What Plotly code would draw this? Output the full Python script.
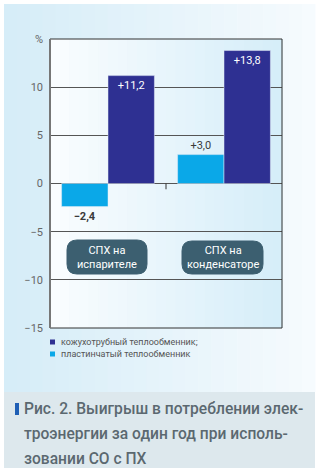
import plotly.graph_objects as go

# ---- data ----
groups = ["СПХ на<br>испарителе", "СПХ на<br>конденсаторе"]
series_names = ["кожухотрубный теплообменник;", "пластинчатый теплообменник"]
shell_tube = [11.2, 13.8]
plate = [-2.4, 3.0]
shell_labels = ["+11,2", "+13,8"]
plate_labels = ["<b>−2,4</b>", "+3,0"]
tick_vals = [15, 10, 5, 0, -5, -10, -15]
tick_text = ["%", "10", "5", "0", "−5", "−10", "−15"]
caption_lines = ["Рис. 2. Выигрыш в потреблении элек-",
                 "троэнергии за один год при исполь-",
                 "зовании СО с ПХ"]

DARK = "#2e3092"
LIGHT = "#0aa8e8"

# plot-area geometry in pixels (for decoration placement)
W, H = 319, 473
L, R, T, B = 50, 282, 39, 328
PW, PH = R - L, B - T


def xp(px):
    return (px - L) / PW


def yp(py):
    return (B - py) / PH


xs = list(range(len(groups)))

fig = go.Figure()
fig.add_trace(go.Bar(
    x=xs, y=plate, name=series_names[1], marker_color=LIGHT,
    text=plate_labels, textposition="outside",
    textfont=dict(color="#3a3a3a", size=11, family="Roboto"),
    cliponaxis=False, showlegend=False,
))
fig.add_trace(go.Bar(
    x=xs, y=shell_tube, name=series_names[0], marker_color=DARK,
    text=shell_labels, textposition="inside", insidetextanchor="end",
    textfont=dict(color="white", size=11, family="Roboto"),
    cliponaxis=False, showlegend=False,
))

shapes = []
# outer light-blue panel (gradient emulated by strips)
px0, px1, py0, py1 = 4, 315, 4, 392
n = 24
for i in range(n):
    a = px0 + (px1 - px0) * i / n
    b = px0 + (px1 - px0) * (i + 1) / n
    t = i / (n - 1)
    r = int(214 + (246 - 214) * t)
    g = int(237 + (251 - 237) * t)
    bl = int(248 + (254 - 248) * t)
    shapes.append(dict(type="rect", xref="paper", yref="paper",
                       x0=xp(a), x1=xp(b) + 0.002, y0=yp(py1), y1=yp(py0),
                       fillcolor=f"rgb({r},{g},{bl})", line_width=0, layer="below"))
# plot area gradient (white left -> light blue right)
for i in range(n):
    a = L + PW * i / n
    b = L + PW * (i + 1) / n
    t = i / (n - 1)
    r = int(250 - (250 - 214) * t)
    g = int(253 - (253 - 238) * t)
    bl = int(255 - (255 - 249) * t)
    shapes.append(dict(type="rect", xref="paper", yref="paper",
                       x0=xp(a), x1=xp(b) + 0.002, y0=0, y1=1,
                       fillcolor=f"rgb({r},{g},{bl})", line_width=0, layer="below"))
# caption panel
shapes.append(dict(type="rect", xref="paper", yref="paper",
                   x0=xp(4), x1=xp(315), y0=yp(468), y1=yp(392),
                   fillcolor="#dde8ed", line_width=0, layer="below"))
# caption marker
shapes.append(dict(type="rect", xref="paper", yref="paper",
                   x0=xp(15), x1=xp(19), y0=yp(415), y1=yp(403),
                   fillcolor="#1f5fb5", line_width=0))
# plot frame
shapes.append(dict(type="line", xref="paper", yref="paper", x0=0, x1=1, y0=1, y1=1,
                   line=dict(color="#333333", width=1)))
shapes.append(dict(type="line", xref="paper", yref="paper", x0=1, x1=1, y0=0, y1=1,
                   line=dict(color="#333333", width=1)))
shapes.append(dict(type="line", xref="paper", yref="paper", x0=0, x1=1, y0=0, y1=0,
                   line=dict(color="#333333", width=1)))
shapes.append(dict(type="line", xref="paper", yref="paper", x0=0, x1=0, y0=0, y1=1,
                   line=dict(color="#777777", width=2)))
# small tick between groups at zero line
shapes.append(dict(type="line", xref="x", yref="y", x0=0.5, x1=0.5, y0=0, y1=-0.6,
                   line=dict(color="#333333", width=1)))


def rounded(xa, xb, ya, yb, r):
    # pixel coords -> paper path with rounded corners
    rx, ry = r / PW, r / PH
    x0, x1, y0, y1 = xp(xa), xp(xb), yp(yb), yp(ya)
    return (f"M {x0+rx},{y0} L {x1-rx},{y0} Q {x1},{y0} {x1},{y0+ry} "
            f"L {x1},{y1-ry} Q {x1},{y1} {x1-rx},{y1} L {x0+rx},{y1} "
            f"Q {x0},{y1} {x0},{y1-ry} L {x0},{y0+ry} Q {x0},{y0} {x0+rx},{y0} Z")


boxes = [(67, 147, 240, 274), (182, 263, 241, 274)]
annotations = []
for (xa, xb, ya, yb), g in zip(boxes, groups):
    shapes.append(dict(type="path", xref="paper", yref="paper",
                       path=rounded(xa, xb, ya, yb, 10),
                       fillcolor="#3c5f70", line=dict(color="#3c5f70", width=1)))
    annotations.append(dict(xref="paper", yref="paper", x=xp((xa + xb) / 2),
                            y=yp((ya + yb) / 2), xanchor="center", yanchor="middle",
                            text=g, showarrow=False,
                            font=dict(color="white", size=11, family="Roboto")))

# legend (manual, compact)
for i, (nm, col) in enumerate(zip(series_names, [DARK, LIGHT])):
    py = 342 + 12 * i
    shapes.append(dict(type="rect", xref="paper", yref="paper",
                       x0=xp(50), x1=xp(55), y0=yp(py + 2.5), y1=yp(py - 2.5),
                       fillcolor=col, line_width=0))
    annotations.append(dict(xref="paper", yref="paper", x=xp(59), y=yp(py),
                            xanchor="left", yanchor="middle", text=nm, showarrow=False,
                            font=dict(color="#555555", size=9, family="Roboto")))

# caption
for i, line in enumerate(caption_lines):
    annotations.append(dict(xref="paper", yref="paper", x=xp(22), y=yp(409 + 25 * i),
                            xanchor="left", yanchor="middle", text=line, showarrow=False,
                            font=dict(color="#5b6870", size=15.6, family="Roboto", weight=500)))

fig.update_layout(
    width=W, height=H,
    margin=dict(l=L, r=W - R, t=T, b=H - B, pad=0),
    paper_bgcolor="white", plot_bgcolor="rgba(0,0,0,0)",
    barmode="group", bargap=0.2, bargroupgap=0,
    xaxis=dict(range=[-0.5, 1.5], showticklabels=False, showgrid=False,
               zeroline=False, ticks=""),
    yaxis=dict(range=[-15, 15], tickvals=tick_vals, ticktext=tick_text,
               showgrid=True, gridcolor="#555555", gridwidth=1,
               zeroline=True, zerolinecolor="#555555", zerolinewidth=1,
               tickfont=dict(color="#666666", size=11, family="Roboto"),
               ticks="", ticklabelstandoff=6),
    shapes=shapes, annotations=annotations,
    font=dict(family="Roboto"),
)

fig.write_html("out.html")
